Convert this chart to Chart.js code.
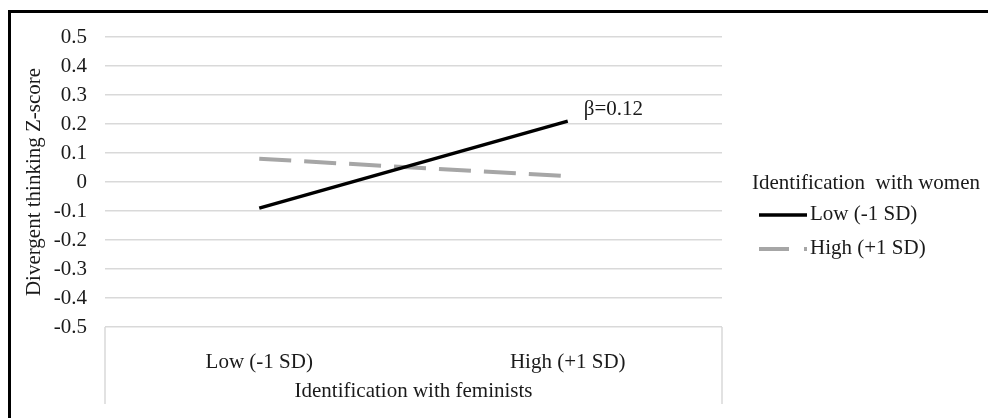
<!DOCTYPE html>
<html>
<head>
<meta charset="utf-8">
<script src="https://cdn.jsdelivr.net/npm/chart.js@4"></script>
<style>
  html, body { margin: 0; padding: 0; background: #fff; }
  #wrap { width: 988px; height: 418px; position: relative; }
</style>
</head>
<body>
<div id="wrap"><canvas id="chart" width="988" height="418"></canvas></div>
<script>
// Data
const categories = ["Low (-1 SD)", "High (+1 SD)"];
const lowWomen = [-0.09, 0.21];   // Identification with women: Low (-1 SD)
const highWomen = [0.08, 0.02];   // Identification with women: High (+1 SD)
const yTicks = [0.5, 0.4, 0.3, 0.2, 0.1, 0, -0.1, -0.2, -0.3, -0.4, -0.5];
const seriesNames = ["Low (-1 SD)", "High (+1 SD)"];
const legendTitle = "Identification  with women";
const betaLabel = "\u03B2=0.12";

const FONT = "'Liberation Serif', 'Times New Roman', serif";
const TEXT = "#1a1a1a";
const GRID = "#d9d9d9";

// Frame, category separators, slope label and the legend
const extrasPlugin = {
  id: "extras",
  afterDraw(chart) {
    const { ctx, chartArea, scales } = chart;
    ctx.save();

    // black frame (top + left only, as in the cropped figure)
    ctx.strokeStyle = "#000";
    ctx.lineWidth = 3;
    ctx.beginPath();
    ctx.moveTo(8, 11.5);
    ctx.lineTo(988, 11.5);
    ctx.moveTo(9.5, 10);
    ctx.lineTo(9.5, 418);
    ctx.stroke();

    // vertical separators under the category axis
    ctx.strokeStyle = GRID;
    ctx.lineWidth = 1.5;
    ctx.beginPath();
    [chartArea.left, chartArea.right].forEach(x => {
      ctx.moveTo(x, chartArea.bottom);
      ctx.lineTo(x, 404);
    });
    ctx.stroke();

    // beta label next to the end of the Low line
    const px = scales.x.getPixelForValue(1);
    const py = scales.y.getPixelForValue(lowWomen[1]);
    ctx.fillStyle = TEXT;
    ctx.font = "21px " + FONT;
    ctx.textAlign = "left";
    ctx.textBaseline = "middle";
    ctx.fillText(betaLabel, px + 16, py - 12);

    // legend
    ctx.fillText(legendTitle, 752, 183);
    const ds = chart.data.datasets;
    const rows = [214, 248];
    ds.forEach((d, i) => {
      ctx.strokeStyle = d.borderColor;
      ctx.lineWidth = d.borderWidth;
      ctx.setLineDash(i === 1 ? [30, 15] : []);
      ctx.beginPath();
      ctx.moveTo(759, rows[i] + 1);
      ctx.lineTo(807, rows[i] + 1);
      ctx.stroke();
      ctx.setLineDash([]);
      ctx.fillStyle = TEXT;
      ctx.fillText(d.label, 810, rows[i]);
    });

    ctx.restore();
  }
};

new Chart(document.getElementById("chart").getContext("2d"), {
  type: "line",
  data: {
    labels: categories,
    datasets: [
      {
        label: seriesNames[0],
        data: lowWomen,
        borderColor: "#000000",
        borderWidth: 3.5,
        pointRadius: 0,
        tension: 0,
        fill: false
      },
      {
        label: seriesNames[1],
        data: highWomen,
        borderColor: "#a6a6a6",
        borderWidth: 4,
        borderDash: [32, 13],
        borderCapStyle: "butt",
        pointRadius: 0,
        tension: 0,
        fill: false
      }
    ]
  },
  options: {
    responsive: false,
    animation: false,
    devicePixelRatio: 1,
    layout: { padding: { top: 37, right: 266, left: 0, bottom: 0 } },
    scales: {
      x: {
        type: "category",
        offset: true,
        grid: { display: false },
        border: { display: false },
        ticks: {
          color: TEXT,
          font: { family: FONT, size: 21 },
          padding: 15,
          maxRotation: 0
        },
        title: {
          display: true,
          text: "Identification with feminists",
          color: TEXT,
          font: { family: FONT, size: 21 },
          padding: { top: 0, bottom: 14 }
        },
        afterFit(scale) { scale.height = 91; }
      },
      y: {
        min: -0.5,
        max: 0.5,
        afterBuildTicks(scale) {
          scale.ticks = yTicks.map(v => ({ value: v }));
        },
        grid: { color: GRID, lineWidth: 1.5, drawTicks: false },
        border: { display: false },
        ticks: {
          color: TEXT,
          font: { family: FONT, size: 21 },
          padding: 18,
          callback: v => (Math.abs(v) < 1e-9 ? "0" : String(Math.round(v * 10) / 10))
        },
        title: {
          display: true,
          text: "Divergent thinking Z-score",
          color: TEXT,
          font: { family: FONT, size: 21 },
          padding: { top: 22, bottom: 0 }
        },
        afterFit(scale) { scale.width = 105; }
      }
    },
    plugins: {
      legend: { display: false },
      tooltip: { enabled: false }
    }
  },
  plugins: [extrasPlugin]
});
</script>
</body>
</html>
